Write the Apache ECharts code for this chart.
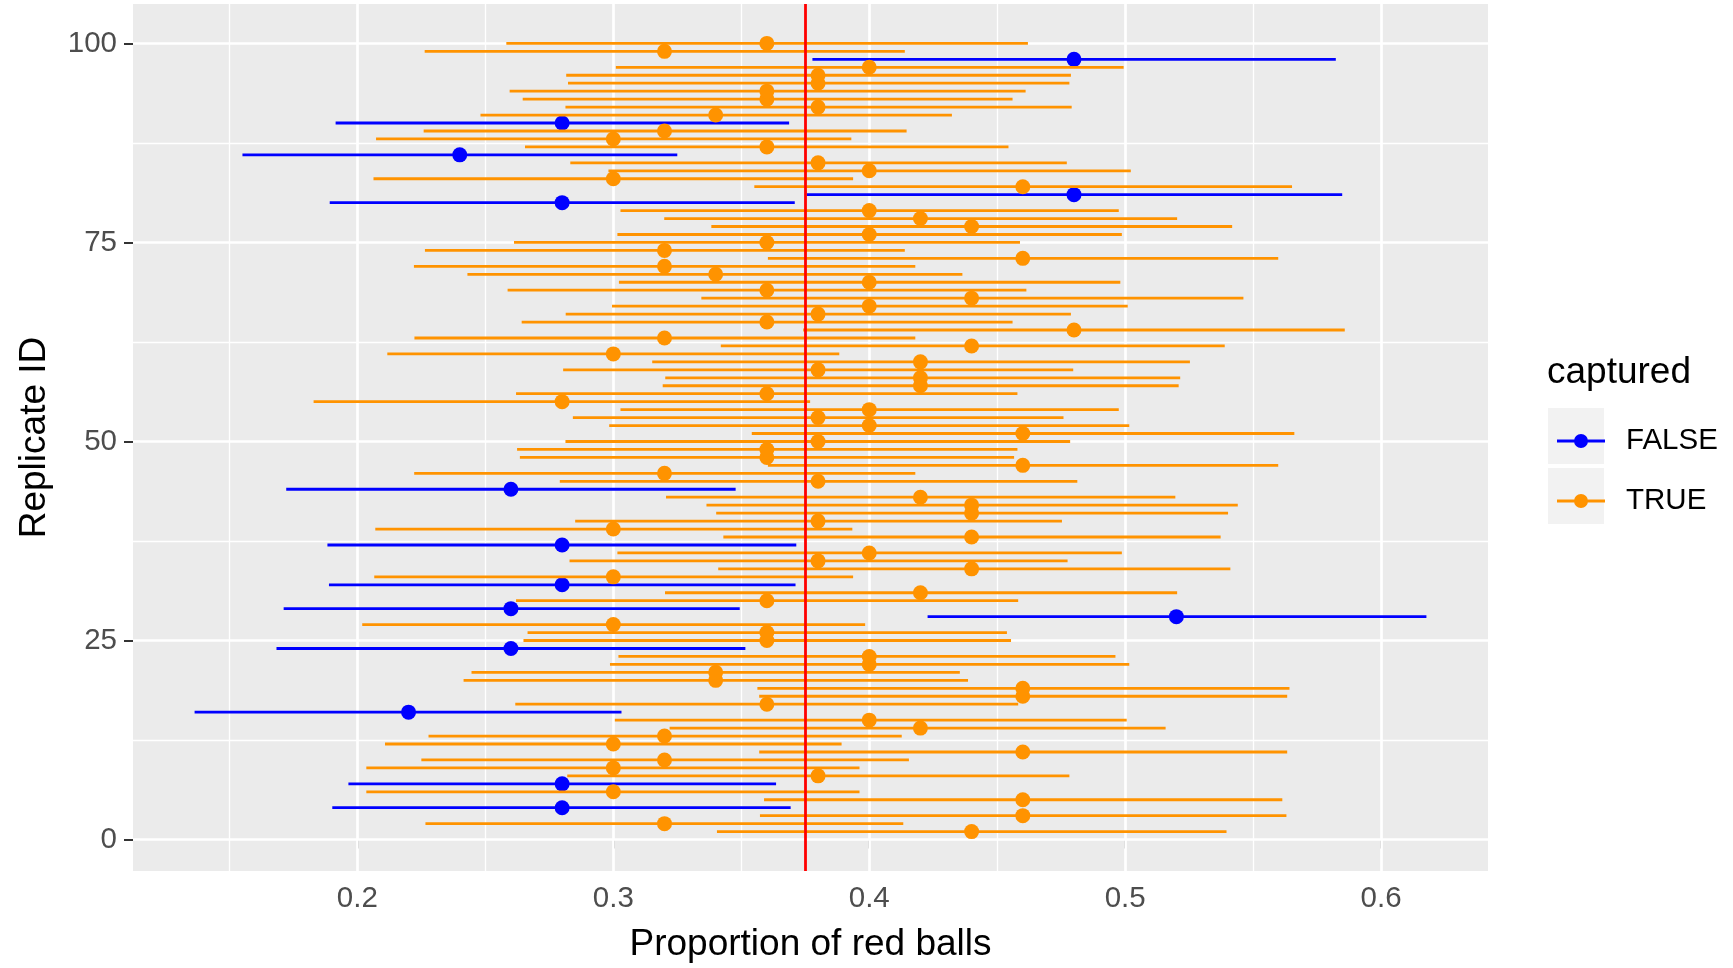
<!DOCTYPE html>
<html>
<head>
<meta charset="utf-8">
<script src="https://cdn.jsdelivr.net/npm/echarts@6/dist/echarts.min.js"></script>
<style>
  html, body { margin: 0; padding: 0; background: #ffffff; }
  #chart { width: 1733px; height: 968px; }
</style>
</head>
<body>
<div id="chart"></div>
<script>
// ---------- data ----------
const replicateIds = [
  1,2,3,4,5,6,7,8,9,10,11,12,13,14,15,16,17,18,19,20,
  21,22,23,24,25,26,27,28,29,30,31,32,33,34,35,36,37,38,39,40,
  41,42,43,44,45,46,47,48,49,50,51,52,53,54,55,56,57,58,59,60,
  61,62,63,64,65,66,67,68,69,70,71,72,73,74,75,76,77,78,79,80,
  81,82,83,84,85,86,87,88,89,90,91,92,93,94,95,96,97,98,99,100
];
const pointEstimates = [
  0.44,0.32,0.46,0.28,0.46,0.30,0.28,0.38,0.30,0.32,
  0.46,0.30,0.32,0.42,0.40,0.22,0.36,0.46,0.46,0.34,
  0.34,0.40,0.40,0.26,0.36,0.36,0.30,0.52,0.26,0.36,
  0.42,0.28,0.30,0.44,0.38,0.40,0.28,0.44,0.30,0.38,
  0.44,0.44,0.42,0.26,0.38,0.32,0.46,0.36,0.36,0.38,
  0.46,0.40,0.38,0.40,0.28,0.36,0.42,0.42,0.38,0.42,
  0.30,0.44,0.32,0.48,0.36,0.38,0.40,0.44,0.36,0.40,
  0.34,0.32,0.46,0.32,0.36,0.40,0.44,0.42,0.40,0.28,
  0.48,0.46,0.30,0.40,0.38,0.24,0.36,0.30,0.32,0.28,
  0.34,0.38,0.36,0.36,0.38,0.38,0.40,0.48,0.32,0.36
];
const lowerBounds = [
  0.3405,0.2266,0.3573,0.1902,0.3589,0.2035,0.1965,0.2820,0.2035,0.2250,
  0.3570,0.2108,0.2278,0.3220,0.3006,0.1364,0.2617,0.3570,0.3563,0.2415,
  0.2446,0.2987,0.3020,0.1684,0.2649,0.2665,0.2019,0.4228,0.1712,0.2620,
  0.3202,0.1889,0.2066,0.3410,0.2829,0.3016,0.1883,0.3430,0.2070,0.2851,
  0.3402,0.3364,0.3206,0.1722,0.2791,0.2222,0.3604,0.2635,0.2624,0.2813,
  0.3541,0.2984,0.2842,0.3028,0.1829,0.2620,0.3193,0.3203,0.2804,0.3152,
  0.2117,0.3420,0.2223,0.3742,0.2642,0.2814,0.2995,0.3344,0.2587,0.3022,
  0.2430,0.2221,0.3604,0.2264,0.2612,0.3016,0.3383,0.3199,0.3028,0.1892,
  0.3756,0.3551,0.2063,0.2981,0.2832,0.1551,0.2655,0.2073,0.2259,0.1915,
  0.2481,0.2813,0.2646,0.2595,0.2823,0.2816,0.3010,0.3778,0.2263,0.2582
];
const upperBounds = [
  0.5396,0.4133,0.5630,0.3693,0.5614,0.3962,0.3636,0.4782,0.3962,0.4155,
  0.5633,0.3892,0.4127,0.5158,0.5006,0.3032,0.4582,0.5633,0.5642,0.4386,
  0.4354,0.5016,0.4962,0.3516,0.4554,0.4538,0.3984,0.6177,0.3494,0.4582,
  0.5203,0.3712,0.3937,0.5411,0.4775,0.4987,0.3715,0.5373,0.3934,0.4753,
  0.5402,0.5440,0.5196,0.3478,0.4813,0.4180,0.5598,0.4566,0.4579,0.4785,
  0.5661,0.5016,0.4759,0.4975,0.3769,0.4579,0.5209,0.5215,0.4797,0.5253,
  0.3883,0.5389,0.4180,0.5858,0.4560,0.4788,0.5010,0.5462,0.4614,0.4981,
  0.4364,0.4180,0.5598,0.4139,0.4589,0.4987,0.5418,0.5203,0.4975,0.3709,
  0.5848,0.5652,0.3937,0.5022,0.4772,0.3250,0.4544,0.3930,0.4146,0.3687,
  0.4323,0.4791,0.4560,0.4611,0.4782,0.4788,0.4994,0.5823,0.4139,0.4620
];
const trueProportion = 0.375;
const xTickValues = [0.2, 0.3, 0.4, 0.5, 0.6];
const yTickValues = [0, 25, 50, 75, 100];
const legendNames = ['FALSE', 'TRUE'];
// "captured": does the interval contain the true proportion?
const capturedFlags = replicateIds.map((id, i) =>
  lowerBounds[i] <= trueProportion && upperBounds[i] >= trueProportion);

// ---------- styling ----------
const FONT = '"Liberation Sans", Arial, Helvetica, sans-serif';
const COLORS = { 'FALSE': '#0000FF', 'TRUE': '#FF9300' };

// ggplot-like 5% expansion of the data ranges
const xLoData = Math.min(...lowerBounds), xHiData = Math.max(...upperBounds);
const xPad = (xHiData - xLoData) * 0.05;
const xMin = xLoData - xPad, xMax = xHiData + xPad;
const yLoData = Math.min(...replicateIds), yHiData = Math.max(...replicateIds);
const yPad = (yHiData - yLoData) * 0.05;
const yMin = yLoData - yPad, yMax = yHiData + yPad;

function groupData(flag) {
  const out = [];
  replicateIds.forEach((id, i) => {
    if (capturedFlags[i] === flag) out.push([id, lowerBounds[i], upperBounds[i], pointEstimates[i]]);
  });
  return out;
}

function renderInterval(params, api) {
  const y = api.value(0);
  const a = api.coord([api.value(1), y]);
  const b = api.coord([api.value(2), y]);
  const p = api.coord([api.value(3), y]);
  const color = api.visual('color');
  return {
    type: 'group',
    children: [
      { type: 'line', shape: { x1: a[0], y1: a[1], x2: b[0], y2: b[1] },
        style: { stroke: color, lineWidth: 2.8 } },
      { type: 'circle', shape: { cx: p[0], cy: p[1], r: 7.5 },
        style: { fill: color } }
    ]
  };
}

// grid lines (major + minor) as mark lines through the axes' scales
const gridLines = [];
for (let i = 0; i < xTickValues.length; i++) {
  gridLines.push({ xAxis: xTickValues[i], lineStyle: { width: 2.7 } });
}
for (let i = 0; i < xTickValues.length; i++) {
  const m = xTickValues[i] - 0.05;
  if (m > xMin) gridLines.push({ xAxis: m, lineStyle: { width: 1.35 } });
}
for (let i = 0; i < yTickValues.length; i++) {
  gridLines.push({ yAxis: yTickValues[i], lineStyle: { width: 2.7 } });
  const m = yTickValues[i] + 12.5;
  if (m < yMax) gridLines.push({ yAxis: m, lineStyle: { width: 1.35 } });
}

const ICON = 'path://M0,0L0.01,0L0.01,0.01Z M56,56L55.99,56L55.99,55.99Z M4,26.6L52,26.6L52,29.4L4,29.4Z M35,28A7,7,0,1,1,21,28A7,7,0,1,1,35,28Z';

const chart = echarts.init(document.getElementById('chart'), null, { renderer: 'canvas' });
chart.setOption({
  animation: false,
  backgroundColor: '#ffffff',
  textStyle: { fontFamily: FONT },
  grid: {
    left: 133, top: 4, right: 245, bottom: 91,
    show: true, backgroundColor: '#EBEBEB', borderWidth: 0
  },
  xAxis: {
    type: 'value', min: xMin, max: xMax,
    name: 'Proportion of red balls', nameLocation: 'middle', nameGap: 55,
    nameTextStyle: { fontSize: 37, color: '#000000', fontFamily: FONT },
    axisLine: { show: false },
    axisTick: { show: true, length: 9, lineStyle: { color: '#333333', width: 2 }, customValues: xTickValues },
    axisLabel: { fontSize: 29.5, color: '#4D4D4D', margin: 13, fontFamily: FONT, customValues: xTickValues,
                 formatter: v => String(Math.round(v * 10) / 10) },
    splitLine: { show: false }
  },
  yAxis: {
    type: 'value', min: yMin, max: yMax,
    name: 'Replicate ID', nameLocation: 'middle', nameGap: 80, nameRotate: 90,
    nameTextStyle: { fontSize: 37, color: '#000000', fontFamily: FONT },
    axisLine: { show: false },
    axisTick: { show: true, length: 9, lineStyle: { color: '#333333', width: 2 }, customValues: yTickValues },
    axisLabel: { fontSize: 29.5, color: '#4D4D4D', margin: 16, fontFamily: FONT, customValues: yTickValues },
    splitLine: { show: false }
  },
  legend: {
    orient: 'vertical', left: 1548, top: 408,
    itemWidth: 56, itemHeight: 56, itemGap: 4,
    selectedMode: false,
    data: legendNames.map(n => ({ name: n, icon: ICON })),
    itemStyle: { borderWidth: 0 },
    textStyle: { fontSize: 29.5, color: '#000000', fontFamily: FONT, padding: [0, 0, 0, 12] }
  },
  graphic: [
    { type: 'rect', left: 1548, top: 408, z: -10, shape: { width: 56, height: 56 }, style: { fill: '#F2F2F2' } },
    { type: 'rect', left: 1548, top: 468, z: -10, shape: { width: 56, height: 56 }, style: { fill: '#F2F2F2' } },
    { type: 'text', left: 1547, top: 354, style: { text: 'captured', fontSize: 37, fill: '#000000', fontFamily: FONT } }
  ],
  series: [
    {
      name: 'grid', type: 'line', data: [], silent: true,
      markLine: { silent: true, symbol: ['none', 'none'], z: 1, animation: false, precision: 8,
        label: { show: false }, lineStyle: { color: '#FFFFFF', type: 'solid' }, data: gridLines }
    },
    {
      name: 'FALSE', type: 'custom', z: 10, renderItem: renderInterval,
      itemStyle: { color: COLORS['FALSE'] },
      encode: { x: [1, 2, 3], y: 0 }, data: groupData(false)
    },
    {
      name: 'TRUE', type: 'custom', z: 10, renderItem: renderInterval,
      itemStyle: { color: COLORS['TRUE'] },
      encode: { x: [1, 2, 3], y: 0 }, data: groupData(true)
    },
    {
      name: 'truth', type: 'line', data: [], silent: true,
      markLine: { silent: true, symbol: ['none', 'none'], z: 20, animation: false, precision: 8,
        label: { show: false }, lineStyle: { color: '#FF0000', type: 'solid', width: 2.8 },
        data: [{ xAxis: trueProportion }] }
    }
  ]
});
</script>
</body>
</html>
